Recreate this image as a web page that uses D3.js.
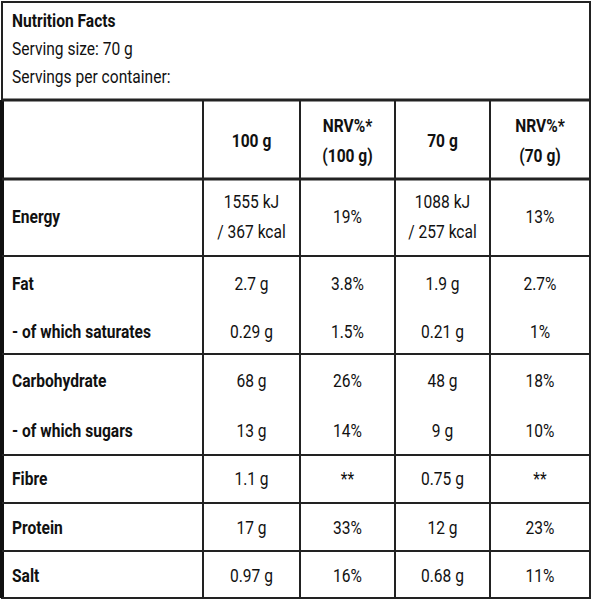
<!DOCTYPE html>
<html><head><meta charset="utf-8">
<script src="https://cdn.jsdelivr.net/npm/d3@7"></script>
<style>body{margin:0;background:#fff}text{font-family:"Roboto",sans-serif;fill:#111}</style>
</head><body><svg id="c" width="592" height="600"></svg>
<script>
const headerLines = ["Nutrition Facts", "Serving size: 70 g", "Servings per container:"];
const columns = ["", ["100 g"], ["NRV%*", "(100 g)"], ["70 g"], ["NRV%*", "(70 g)"]];
const nutrients = ["Energy", "Fat", "- of which saturates", "Carbohydrate", "- of which sugars", "Fibre", "Protein", "Salt"];
const per100 = [["1555 kJ", "/ 367 kcal"], "2.7 g", "0.29 g", "68 g", "13 g", "1.1 g", "17 g", "0.97 g"];
const nrv100 = ["19%", "3.8%", "1.5%", "26%", "14%", "**", "33%", "16%"];
const per70 = [["1088 kJ", "/ 257 kcal"], "1.9 g", "0.21 g", "48 g", "9 g", "0.75 g", "12 g", "0.68 g"];
const nrv70 = ["13%", "2.7%", "1%", "18%", "10%", "**", "23%", "11%"];

const svg = d3.select("#c");
const colX = [2, 203, 300, 395, 490, 590];
const rowCenters = [216, 283, 331, 380, 430, 478, 527, 575];
const groupLines = [100, 179, 256, 354, 455, 503, 551, 598];
const squeeze = 0.82;

svg.append("rect").attr("x", 2).attr("y", 2).attr("width", 588).attr("height", 596)
  .attr("fill", "none").attr("stroke", "#222").attr("stroke-width", 2);
svg.append("line").attr("x1", 2).attr("x2", 2).attr("y1", 100).attr("y2", 598).attr("stroke", "#111").attr("stroke-width", 4);

groupLines.forEach((y, i) => svg.append("line").attr("x1", 2).attr("x2", 590).attr("y1", y).attr("y2", y)
  .attr("stroke", "#222").attr("stroke-width", i < 2 ? 3 : 2));
colX.slice(1, 5).forEach(x => svg.append("line").attr("x1", x).attr("x2", x).attr("y1", 100).attr("y2", 598)
  .attr("stroke", "#222").attr("stroke-width", 2));

function cell(x, y, val, bold, anchor) {
  const lines = Array.isArray(val) ? val : [val];
  const t = svg.append("g").attr("transform", `translate(${x},0) scale(${squeeze},1)`)
    .append("text").attr("text-anchor", anchor).attr("font-size", 19)
    .attr("font-weight", bold ? "bold" : "normal");
  lines.forEach((l, i) => t.append("tspan").attr("x", 0)
    .attr("y", y + 7 + (i - (lines.length - 1) / 2) * 30).text(l));
}
headerLines.forEach((t, i) => cell(12, 20 + i * 28, t, i === 0, "start"));
const mid = i => (colX[i] + colX[i + 1]) / 2;
columns.forEach((c, i) => { if (c) cell(mid(i), 140, c, true, "middle"); });
nutrients.forEach((n, r) => {
  const y = rowCenters[r];
  cell(12, y, n, true, "start");
  [per100, nrv100, per70, nrv70].forEach((s, k) => cell(mid(k + 1), y, s[r], false, "middle"));
});
</script></body></html>
